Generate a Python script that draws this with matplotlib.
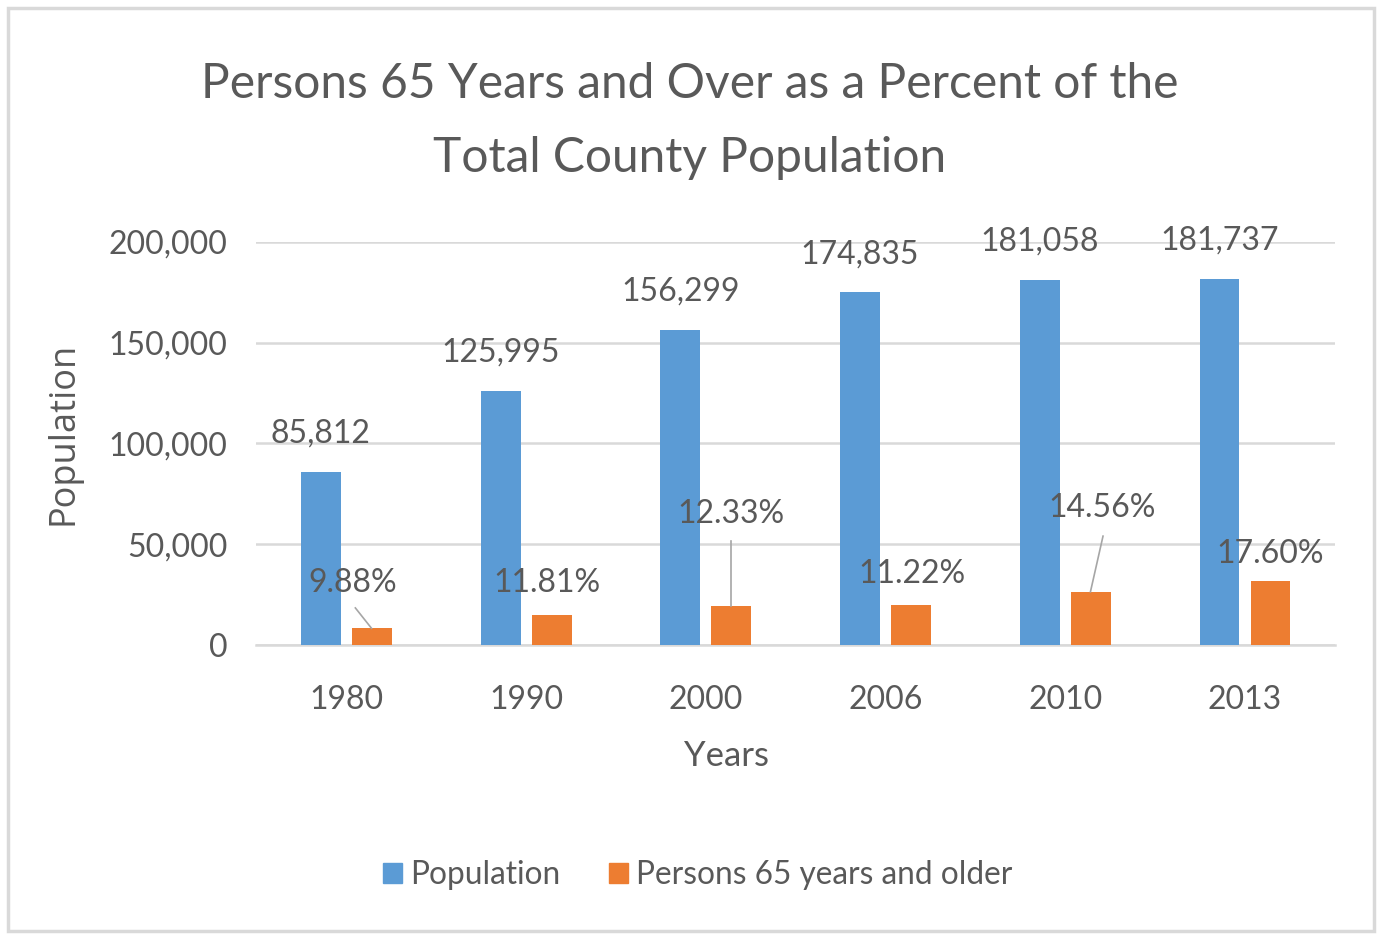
import matplotlib
matplotlib.use("Agg")
import matplotlib.pyplot as plt
from matplotlib.patches import Rectangle
from matplotlib.ticker import FuncFormatter

years = ["1980", "1990", "2000", "2006", "2010", "2013"]
population = [85812, 125995, 156299, 174835, 181058, 181737]
older = [8478, 14880, 19272, 19616, 26362, 31986]
older_pct = ["9.88%", "11.81%", "12.33%", "11.22%", "14.56%", "17.60%"]
pop_labels = ["85,812", "125,995", "156,299", "174,835", "181,058", "181,737"]

# label placement for orange-bar labels: (x offset from category, baseline y in data units)
pct_pos = [(0.035, 26300), (0.117, 26300), (0.138, 60500), (0.145, 30900), (0.205, 63500), (0.137, 40800)]
# leader lines: (x offset start, y start, x offset end, y end) for selected categories
leaders = {0: (0.05, 18400, 0.14, 8300), 2: (0.138, 51600, 0.138, 19300), 4: (0.21, 54000, 0.14, 26400)}

plt.rcParams['font.family'] = ['Lato', 'DejaVu Sans']
TXT = '#595959'
BLUE = '#5B9BD5'
ORANGE = '#ED7D31'

fig = plt.figure(figsize=(13.79, 9.34), dpi=100)
fig.patches.append(Rectangle((0.0055, 0.003), 0.991, 0.988, transform=fig.transFigure,
                             fill=False, edgecolor='#d9d9d9', linewidth=2.5))

ax = fig.add_axes([0.186, 0.3094, 0.782, 0.4318])
x = list(range(len(years)))
w = 0.222
off = 0.142
ax.bar([i - off for i in x], population, width=w, color=BLUE, zorder=3)
ax.bar([i + off for i in x], older, width=w, color=ORANGE, zorder=3)

ax.set_xlim(-0.5, len(years) - 0.5)
ax.set_ylim(0, 200000)
ax.set_yticks([0, 50000, 100000, 150000, 200000])
ax.yaxis.set_major_formatter(FuncFormatter(lambda v, p: f"{int(v):,}"))
ax.set_xticks(x)
ax.set_xticklabels(years)
ax.grid(axis='y', color='#d9d9d9', linewidth=1.8, zorder=0)
for s in ['top', 'right', 'left']:
    ax.spines[s].set_visible(False)
ax.spines['bottom'].set_color('#d9d9d9')
ax.spines['bottom'].set_linewidth(1.8)
ax.tick_params(axis='both', length=0, labelsize=23, colors=TXT)
ax.tick_params(axis='x', pad=28.5)
ax.tick_params(axis='y', pad=21)

for i in x:
    ax.text(i - off, population[i] + 14400, pop_labels[i], ha='center', va='baseline',
            fontsize=23, color=TXT)
    dx, yy = pct_pos[i]
    ax.text(i + dx, yy, older_pct[i], ha='center', va='baseline', fontsize=23, color=TXT, zorder=5)

for i, (x0, y0, x1, y1) in leaders.items():
    ax.plot([i + x0, i + x1], [y0, y1], color='#a6a6a6', lw=1.2, zorder=4)

ax.set_xlabel("Years", fontsize=25, color=TXT, va='top')
ax.xaxis.set_label_coords(0.436, -0.235)
ax.set_ylabel("Population", fontsize=26, color=TXT, va='center', family=['Open Sans', 'DejaVu Sans'])
ax.yaxis.set_label_coords(-0.179, 0.525)

fig.text(0.500, 0.910, "Persons 65 Years and Over as a Percent of the", ha='center', va='center',
         fontsize=34.5, color=TXT)
fig.text(0.500, 0.831, "Total County Population", ha='center', va='center',
         fontsize=34.5, color=TXT)

handles = [Rectangle((0, 0), 1, 1, color=BLUE), Rectangle((0, 0), 1, 1, color=ORANGE)]
fig.legend(handles, ["Population", "Persons 65 years and older"], loc='center',
           bbox_to_anchor=(0.506, 0.063), ncol=2, frameon=False, fontsize=22.8,
           labelcolor=TXT, handlelength=0.6, handleheight=0.6, handletextpad=0.25,
           columnspacing=1.55)

fig.savefig("out.png", dpi=100)
